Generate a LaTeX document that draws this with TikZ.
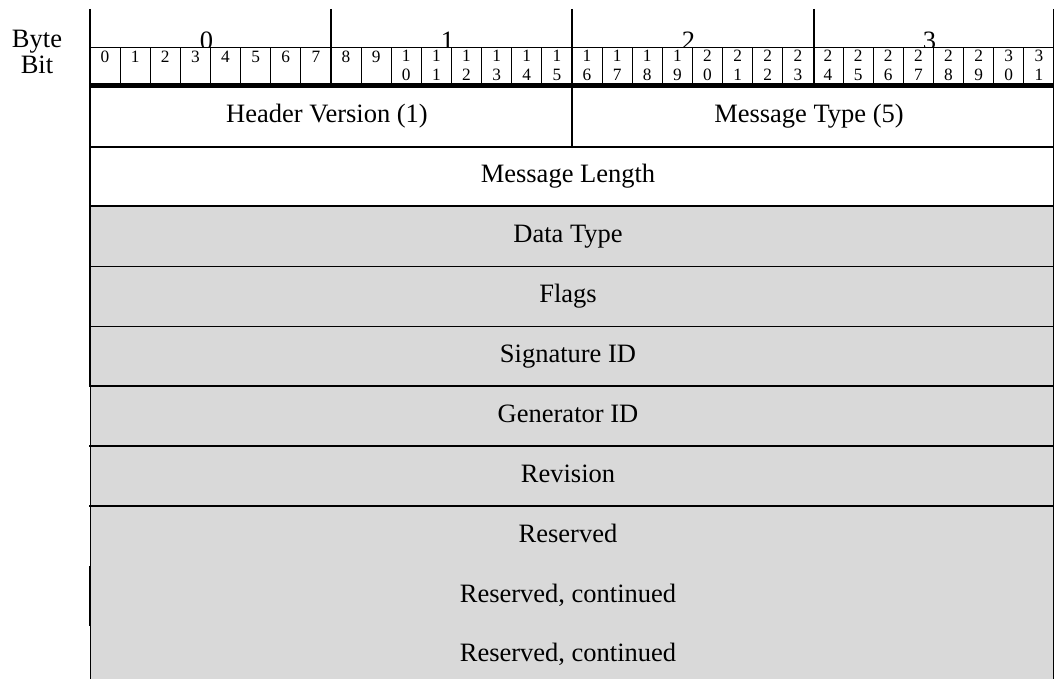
\documentclass[tikz,border=0pt]{standalone}
\usepackage{fontspec}
\setmainfont{Liberation Serif}
\definecolor{fieldgray}{RGB}{217,217,217}
\begin{document}
\begin{tikzpicture}[x=1pt,y=-1pt,
  fieldtext/.style={anchor=base,inner sep=0pt,font=\fontsize{26.5}{30}\selectfont},
  bittext/.style={anchor=base,inner sep=0pt,font=\fontsize{17.3}{20}\selectfont},
  medline/.style={line width=1.7pt},
  thinline/.style={line width=1pt},
  hairline/.style={line width=0.8pt},
  boldline/.style={line width=4.8pt}]
\useasboundingbox (0,0) rectangle (1055,679);
% gray field area
\fill[fieldgray] (90,206) rectangle (1054,679);
% byte labels (partly hidden by bit row)
\foreach \k in {0,...,3}
  \node[fieldtext] (byte\k) at ({206.5+241*\k},49.6) {\k};
\fill[white] (90.5,48) rectangle (1053.5,84);
% side labels
\node[fieldtext] (bytelbl) at (37,47.8) {Byte};
\node[fieldtext] (bitlbl) at (37,74) {Bit};
% bit numbers
\foreach \i in {0,...,9}
  \node[bittext] (bit\i) at ({90+30.125*(\i+0.5)},62.7) {\i};
\foreach \i in {10,...,31}{
  \pgfmathtruncatemacro\tens{int(\i/10)}
  \pgfmathtruncatemacro\ones{mod(\i,10)}
  \node[bittext] (bit\i) at ({90+30.125*(\i+0.5)},61.7) {\tens};
  \node[bittext] (bitb\i) at ({90+30.125*(\i+0.5)},81) {\ones};
}
% bit separators
\foreach \i in {1,...,31}
  \draw[hairline] ({90+30.125*\i},48) -- ({90+30.125*\i},84);
% byte separators
\foreach \x in {331,814}
  \draw[medline] (\x,9) -- (\x,86);
\draw[medline] (572,9) -- (572,147);
% top horizontal
\draw[thinline] (90,48) -- (1054,48);
% outer borders
\draw[medline] (90,9) -- (90,386);
\draw[thinline] (90.5,386) -- (90.5,679);
\draw[medline] (89.6,566) -- (89.6,626);
\draw[thinline] (1053.8,9) -- (1053.8,679);
% thick line under bits
\draw[boldline] (90,85.7) -- (1054,85.7);
% row separators
\draw[medline] (90,147) -- (1054,147);
\draw[medline] (90,206) -- (1054,206);
\draw[thinline] (90,266) -- (1054,266);
\draw[thinline] (90,326) -- (1054,326);
\draw[medline] (89,386) -- (1054,386);
\draw[medline] (89,446) -- (1054,446);
\draw[medline] (89,506) -- (1054,506);
% field texts
\node[fieldtext] (hdrver) at (327,122.7) {Header Version (1)};
\node[fieldtext] (msgtype) at (809,122.7) {Message Type (5)};
\node[fieldtext] (msglen) at (568,182.3) {Message Length};
\node[fieldtext] (datatype) at (568,242.3) {Data Type};
\node[fieldtext] (flags) at (568,302.3) {Flags};
\node[fieldtext] (sigid) at (568,362.3) {Signature ID};
\node[fieldtext] (genid) at (568,422.3) {Generator ID};
\node[fieldtext] (rev) at (568,482.3) {Revision};
\node[fieldtext] (res) at (568,542.3) {Reserved};
\node[fieldtext] (resc1) at (568,602.3) {Reserved, continued};
\node[fieldtext] (resc2) at (568,661.7) {Reserved, continued};
\end{tikzpicture}
\end{document}
